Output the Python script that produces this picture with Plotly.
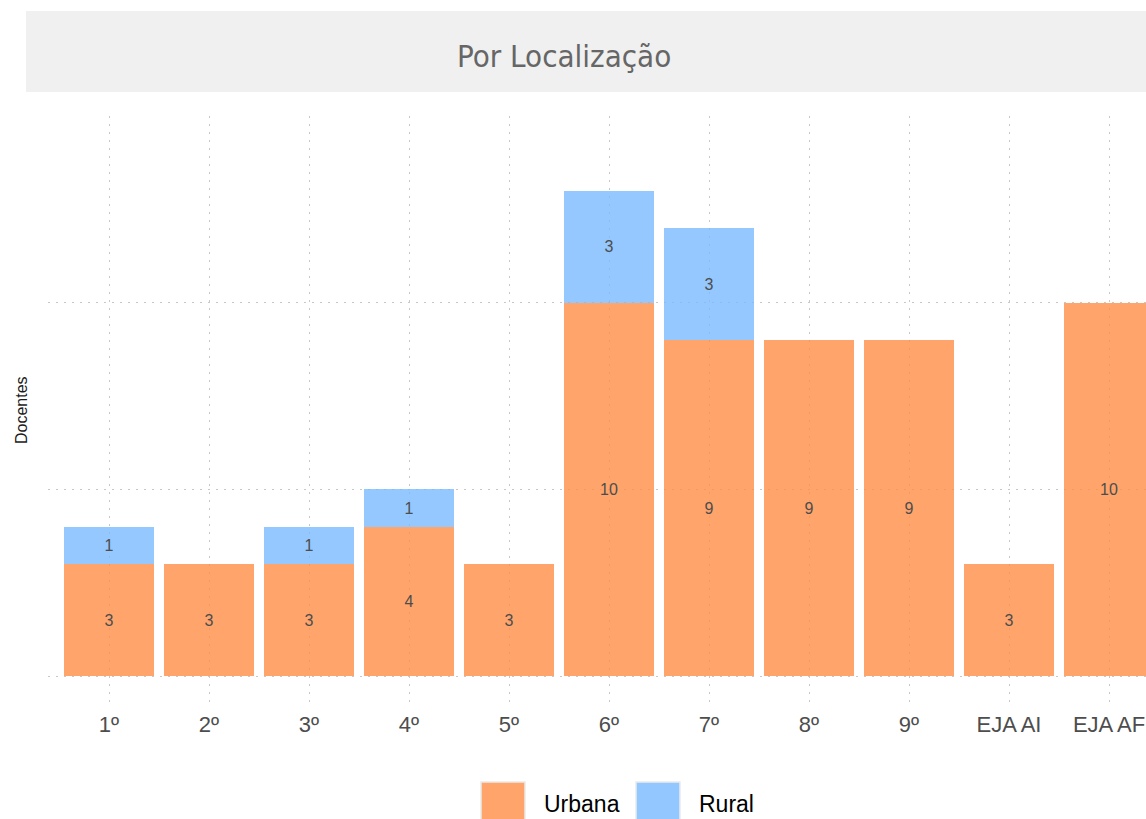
import plotly.graph_objects as go

# Teachers per grade, split by school location
series_names = ["Urbana", "Rural"]
grades = ["1º", "2º", "3º", "4º", "5º", "6º", "7º", "8º", "9º", "EJA AI", "EJA AF"]
urbana = [3, 3, 3, 4, 3, 10, 9, 9, 9, 3, 10]
rural = [1, 0, 1, 1, 0, 3, 3, 0, 0, 0, 0]
y_gridvals = [0, 5, 10, 15]

colors = {"Urbana": "#FF8E46", "Rural": "#79BAFF"}
W, H = 1146, 819
L, R, T, B = 48, 0, 116, 116
plot_w = W - L - R
plot_h = H - T - B


def px_x(p):
    return (p - L) / plot_w


def px_y(p):
    return (H - B - p) / plot_h


fig = go.Figure()
for name, vals in zip(series_names, [urbana, rural]):
    fig.add_trace(go.Bar(
        x=list(range(len(grades))),
        y=vals,
        name=name,
        width=0.9,
        marker=dict(color=colors[name], opacity=0.8, line=dict(width=0)),
        text=[str(v) if v else "" for v in vals],
        textposition="inside",
        insidetextanchor="middle",
        textangle=0,
        textfont=dict(family="Liberation Sans, Arial", size=16, color="#4d4d4d"),
        showlegend=False,
        hoverinfo="skip",
    ))

fig.update_layout(
    width=W, height=H,
    margin=dict(l=L, r=R, t=T, b=B, pad=0),
    barmode="stack",
    plot_bgcolor="white",
    paper_bgcolor="white",
    font=dict(family="Liberation Sans, Arial", color="#4d4d4d"),
    uniformtext=dict(minsize=8, mode="show"),
)

grid_style = dict(showgrid=True, gridcolor="#c8c8c8", griddash="2px,6px", gridwidth=1,
                  zeroline=False, showline=False, ticks="")

fig.update_xaxes(
    range=[-0.61, -0.61 + plot_w / 100.0],
    tickmode="array",
    tickvals=list(range(len(grades))),
    ticktext=grades,
    tickfont=dict(size=22, color="#4d4d4d"),
    ticklabelstandoff=6,
    **grid_style,
)
fig.update_yaxes(
    range=[-0.7232, 15],
    tickmode="array",
    tickvals=y_gridvals,
    showticklabels=False,
    **grid_style,
)

shapes = []
annotations = []

# facet strip with the panel title
shapes.append(dict(type="rect", xref="paper", yref="paper",
                   x0=px_x(26), x1=px_x(W + 5), y0=px_y(92), y1=px_y(11),
                   fillcolor="#f0f0f0", line=dict(width=0), layer="below"))
annotations.append(dict(xref="paper", yref="paper", x=px_x(564), y=px_y(56),
                        text="Por Localização", showarrow=False,
                        xanchor="center", yanchor="middle",
                        font=dict(family="DejaVu Sans Condensed, Roboto Condensed, Roboto",
                                  size=31, color="#666666")))

# y-axis title
annotations.append(dict(xref="paper", yref="paper", x=px_x(22), y=px_y(410),
                        text="Docentes", showarrow=False, textangle=-90,
                        xanchor="center", yanchor="middle",
                        font=dict(family="Liberation Sans, Arial", size=16, color="#1a1a1a")))

# legend keys at the bottom
legend_items = [("Urbana", 481, 542), ("Rural", 636, 697)]
for name, kx, tx in legend_items:
    shapes.append(dict(type="rect", xref="paper", yref="paper",
                       x0=px_x(kx), x1=px_x(kx + 44), y0=px_y(830), y1=px_y(782),
                       fillcolor=colors[name], opacity=0.8,
                       line=dict(color="#e6e6e6", width=1.5)))
    annotations.append(dict(xref="paper", yref="paper", x=px_x(tx), y=px_y(804),
                            text=name, showarrow=False, xanchor="left", yanchor="middle",
                            font=dict(family="Liberation Sans, Arial", size=23, color="#000000")))

fig.update_layout(shapes=shapes, annotations=annotations)

fig.write_html("out.html")
